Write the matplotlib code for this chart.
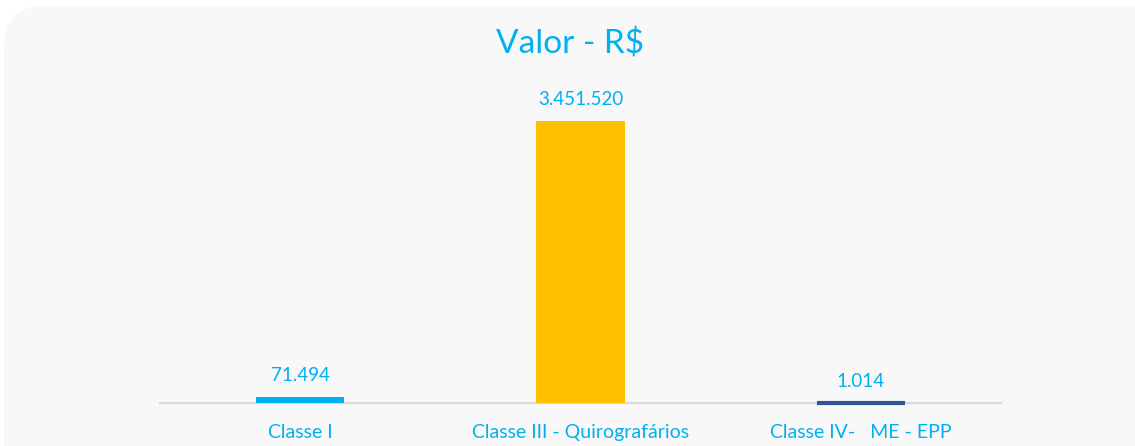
import numpy as np
import matplotlib
matplotlib.use("Agg")
import matplotlib.pyplot as plt
from matplotlib.patches import FancyBboxPatch
from matplotlib.transforms import IdentityTransform

categories = ["Classe I", "Classe III - Quirografários", "Classe IV-   ME - EPP"]
values = [71494, 3451520, 1014]
value_labels = ["71.494", "3.451.520", "1.014"]
bar_colors = ["#00B0F0", "#FFC000", "#2F5597"]
edge_widths = [0, 0, 3.0]

TEXT_COLOR = "#00B0F0"
plt.rcParams["font.family"] = ["Lato", "DejaVu Sans"]

fig = plt.figure(figsize=(11.35, 4.46), dpi=100, facecolor="white")

# rounded light-gray card behind the chart
card = FancyBboxPatch((4, -60), 1200, 500, boxstyle="round,pad=0,rounding_size=40",
                      transform=IdentityTransform(), facecolor="#F8F8F8",
                      edgecolor="none", zorder=-5)
fig.patches.append(card)

ax = fig.add_axes([160 / 1135, 43 / 446, 841 / 1135, 327 / 446])
ax.set_facecolor("none")
ax.set_zorder(2)

x = np.arange(len(categories))
bars = ax.bar(x, values, width=0.314, color=bar_colors, edgecolor=bar_colors,
              linewidth=edge_widths, zorder=3)
# tiny bar: let its outline show across the baseline like the original
bars[2].set_clip_on(False)
bars[2].set_joinstyle("round")
for xi, v, lab in zip(x, values, value_labels):
    ax.annotate(lab, (xi, v), xytext=(0, 11.5), textcoords="offset points",
                ha="center", va="baseline", fontsize=13.5, color=TEXT_COLOR)

ax.set_xlim(-0.5, 2.5)
ax.set_ylim(0, 4000000)
ax.set_yticks([])
ax.set_xticks(x)
ax.set_xticklabels(categories, fontsize=14, color=TEXT_COLOR)
ax.tick_params(axis="x", length=0, pad=15)
for s in ["top", "right", "left"]:
    ax.spines[s].set_visible(False)
ax.spines["bottom"].set_color("#D9D9D9")
ax.spines["bottom"].set_linewidth(1.5)

fig.text(0.502, 1 - 44 / 446, "Valor - R$", ha="center", va="center",
         fontsize=24, color=TEXT_COLOR, zorder=3)

fig.savefig("out.png", dpi=100, facecolor="white")
